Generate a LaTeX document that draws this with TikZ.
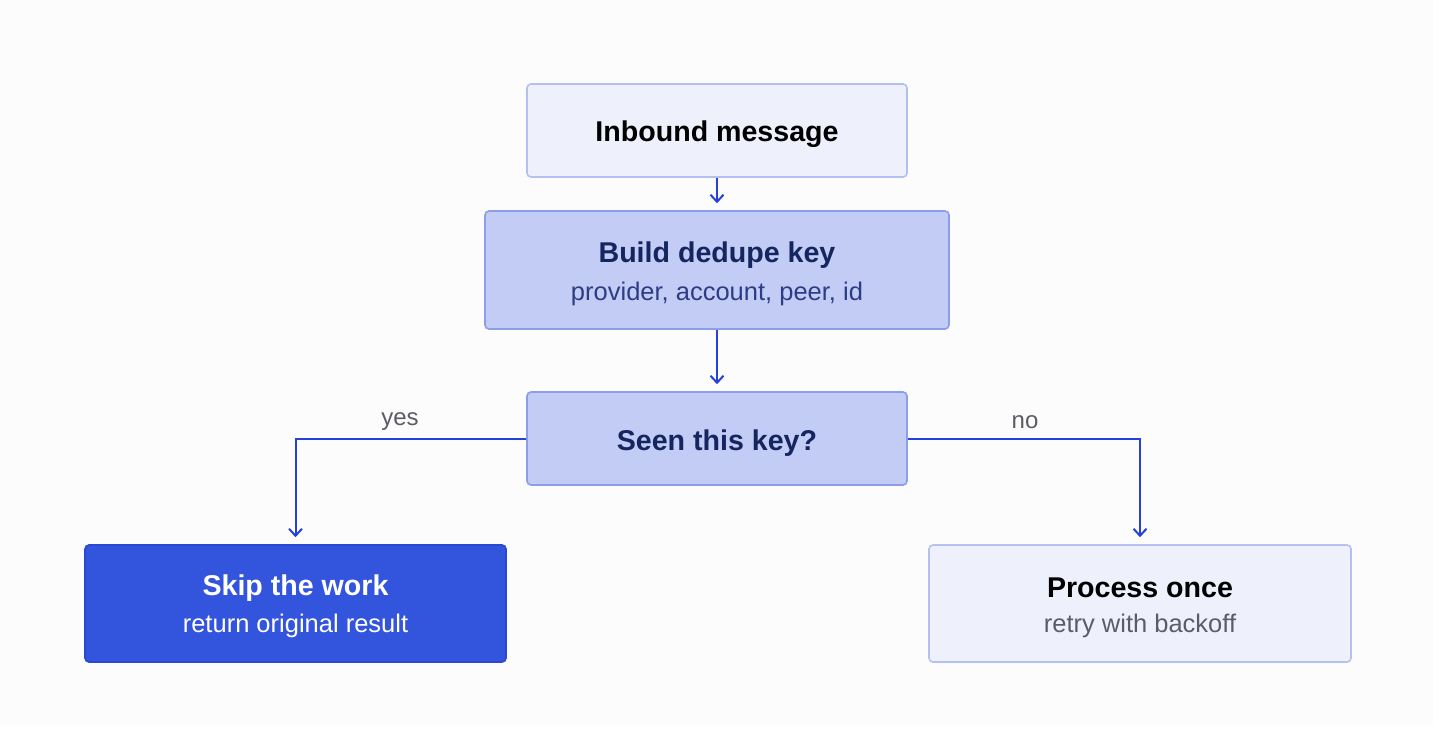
\documentclass[tikz,border=0pt]{standalone}
\usepackage{fontspec}
\setmainfont{Liberation Sans}
\usetikzlibrary{arrows.meta}
\definecolor{bgc}{HTML}{FCFCFD}
\definecolor{palefill}{HTML}{EEF1FC}
\definecolor{paleline}{HTML}{B4C0F2}
\definecolor{midfill}{HTML}{C3CCF5}
\definecolor{midline}{HTML}{8C9DEA}
\definecolor{darkfill}{HTML}{3354DD}
\definecolor{darkline}{HTML}{2A48D0}
\definecolor{navy}{HTML}{15255F}
\definecolor{navysub}{HTML}{2D3D85}
\definecolor{arrowc}{HTML}{2441D9}
\definecolor{graytxt}{HTML}{5C5C66}
\tikzset{
  box/.style={draw, line width=1.6pt, rounded corners=4pt, inner sep=0pt},
  palebox/.style={box, fill=palefill, draw=paleline},
  midbox/.style={box, fill=midfill, draw=midline},
  darkbox/.style={box, fill=darkfill, draw=darkline},
  ttl/.style={inner sep=0pt, yshift=-3pt, font=\fontsize{28.6}{32}\selectfont\bfseries},
  sub/.style={inner sep=0pt, yshift=-3pt, font=\fontsize{25.5}{28}\selectfont},
  lbl/.style={inner sep=0pt, yshift=-3pt, font=\fontsize{24}{28}\selectfont, text=graytxt},
  conn/.style={draw=arrowc, line width=2pt, -{Straight Barb[length=7pt,width=13pt,line width=2pt]}, shorten >=7pt}
}
\begin{document}
\begin{tikzpicture}[x=1pt,y=-1pt]
\useasboundingbox (0,0) rectangle (1456,747);
\fill[bgc] (0,0) rectangle (1433,726);

\node[palebox, minimum width=380pt, minimum height=93pt] (inb) at (717,130.5) {};
\node[ttl, text=black] (inbt) at (717,131) {Inbound message};

\node[midbox, minimum width=464pt, minimum height=118pt] (bld) at (717,270) {};
\node[ttl, text=navy] (bldt) at (717,252) {Build dedupe key};
\node[sub, text=navysub] (blds) at (717,291) {provider, account, peer, id};

\node[midbox, minimum width=380pt, minimum height=93pt] (seen) at (717,438.5) {};
\node[ttl, text=navy] (seent) at (717,440) {Seen this key?};

\node[darkbox, minimum width=421pt, minimum height=117pt] (skip) at (295.5,603.5) {};
\node[ttl, text=white] (skipt) at (295.5,585) {Skip the work};
\node[sub, text=white] (skips) at (295.5,623) {return original result};

\node[palebox, minimum width=422pt, minimum height=117pt] (proc) at (1140,603.5) {};
\node[ttl, text=black] (proct) at (1140,585) {Process once};
\node[sub, text=graytxt] (procs) at (1140,623) {retry with backoff};

\draw[conn] (inb.south) -- (bld.north);
\draw[conn] (bld.south) -- (seen.north);
\draw[conn] (seen.west) -| (skip.north);
\draw[conn] (seen.east) -| (proc.north);

\node[lbl] (yes) at (400,419) {yes};
\node[lbl] (no) at (1025,419) {no};
\end{tikzpicture}
\end{document}
